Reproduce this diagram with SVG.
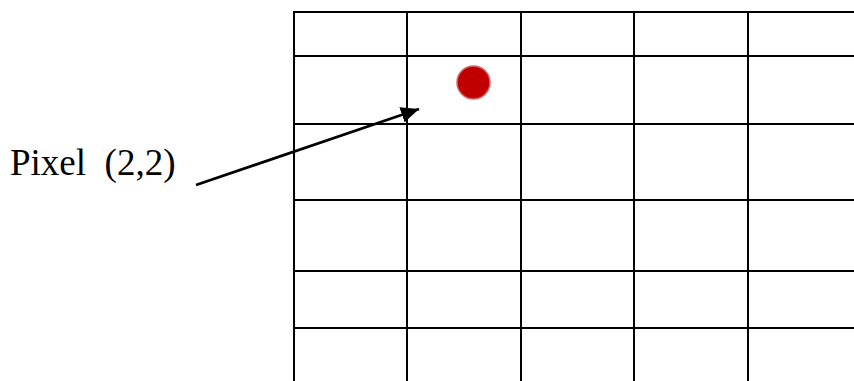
<svg xmlns="http://www.w3.org/2000/svg" width="854" height="381" viewBox="0 0 854 381">
  <style>
    .grid line { stroke: #000; stroke-width: 2; }
    .label { font-family: "Liberation Serif", "Times New Roman", serif; font-size: 37px; fill: #000; white-space: pre; }
    .conn { stroke: #000; stroke-width: 2.8; fill: none; }
  </style>
  <defs>
    <marker id="arrow" markerUnits="userSpaceOnUse" markerWidth="20" markerHeight="16" refX="18" refY="8" orient="auto">
      <path d="M0,0 L18,8 L0,16 Z" fill="#000"/>
    </marker>
  </defs>
  <rect width="854" height="381" fill="#fff"/>
  <g id="grid" class="grid">
    <line x1="294" y1="12" x2="294" y2="381"/>
    <line x1="407" y1="12" x2="407" y2="381"/>
    <line x1="521" y1="12" x2="521" y2="381"/>
    <line x1="634" y1="12" x2="634" y2="381"/>
    <line x1="748" y1="12" x2="748" y2="381"/>
    <line x1="293" y1="12" x2="854" y2="12"/>
    <line x1="293" y1="56" x2="854" y2="56"/>
    <line x1="293" y1="124" x2="854" y2="124"/>
    <line x1="293" y1="200" x2="854" y2="200"/>
    <line x1="293" y1="271" x2="854" y2="271"/>
    <line x1="293" y1="328" x2="854" y2="328"/>
  </g>
  <g id="dot">
    <circle cx="473.5" cy="82.5" r="16.5" fill="#C00000" stroke="#D46A6A" stroke-width="1.5"/>
  </g>
  <g id="label">
    <text class="label" x="10" y="175">Pixel  (2,2)</text>
  </g>
  <g id="connectors">
    <line class="conn" x1="196" y1="185" x2="419" y2="109" marker-end="url(#arrow)"/>
  </g>
</svg>
